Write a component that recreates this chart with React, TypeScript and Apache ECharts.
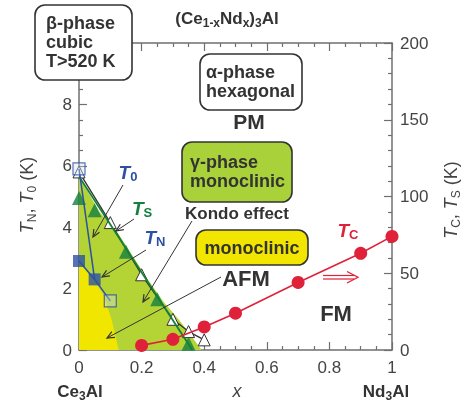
import React, { useEffect, useRef } from "react";
import * as echarts from "echarts";

// ---- data (x = Nd content; left axis in K for T_N/T_0, right axis in K for T_C/T_S) ----
const xTickValues = [0, 0.2, 0.4, 0.6, 0.8, 1];
const leftTickLabels = ["0", "2", "4", "6", "8"];
const rightTickLabels = ["0", "50", "100", "150", "200"];

const greenRegion = [[0, 5.65], [0.065, 4.5], [0.125, 3.8], [0.221, 2.28], [0.27, 1.57], [0.32, 0.98], [0.392, 0]];
const yellowRegion = [[0, 2.8], [0.03, 2.55], [0.078, 1.8], [0.104, 1.0], [0.127, 0]];
const kondoPoints = [[0, 5.8], [0.1, 4.15], [0.2, 2.45], [0.3, 1.0], [0.35, 0.6], [0.4, 0.33]];
const tsFitLine = [[0, 113], [0.362, 0]];
const tsPoints = [[0, 99], [0.05, 91], [0.15, 64], [0.25, 33], [0.35, 4]];
const t0Line = [[0, 5.9], [0.05, 2.3]];
const tnLine = [[0, 2.9], [0.05, 2.3], [0.1, 1.6]];
const tnFilled = [[0, 2.9], [0.05, 2.3]];
const openSquares = [[0, 5.9], [0.1, 1.6]];
const tcPoints = [[0.2, 3], [0.3, 7], [0.4, 15], [0.5, 24], [0.7, 44], [0.9, 63], [1.0, 74]];

const FONT = "'Liberation Sans', Arial, Helvetica, sans-serif";
const DARK = "#333";
const AXIS = "#6f6f6f";
const BLUE = "#2c51a2";
const GREEN = "#13803f";
const RED = "#e0213a";

function arrow(x1: number, y1: number, x2: number, y2: number, color = DARK) {
  const a = Math.atan2(y2 - y1, x2 - x1);
  const L = 8, w = 0.42;
  const p1 = [x2 - L * Math.cos(a - w), y2 - L * Math.sin(a - w)];
  const p2 = [x2 - L * Math.cos(a + w), y2 - L * Math.sin(a + w)];
  return [
    { type: "line", z: 100, shape: { x1, y1, x2, y2 }, style: { stroke: color, lineWidth: 1 } },
    { type: "polyline", z: 100, shape: { points: [p1, [x2, y2], p2] }, style: { stroke: color, lineWidth: 1.2, fill: null } },
  ];
}

function box(x: number, y: number, w: number, h: number, fill: string) {
  return { type: "rect", z: 100, shape: { x, y, width: w, height: h, r: 10 }, style: { fill, stroke: DARK, lineWidth: 1.6 } };
}

function txt(x: number, y: number, text: string, opts: any = {}) {
  return {
    type: "text", z: 101, x, y,
    style: {
      text, fill: opts.color || DARK, font: `${opts.italic ? "italic " : ""}${opts.weight || "bold"} ${opts.size || 18}px ${FONT}`,
      align: opts.align || "left", verticalAlign: "middle",
    },
  };
}

const richBase = (color: string, size: number, weight: string) => ({
  n: { fontSize: size, fontWeight: weight, color, fontFamily: FONT, lineHeight: 22, verticalAlign: "middle" },
  i: { fontSize: size, fontWeight: weight, fontStyle: "italic", color, fontFamily: FONT, lineHeight: 22, verticalAlign: "middle" },
  s: { fontSize: Math.round(size * 0.68), fontWeight: weight, color, fontFamily: FONT, lineHeight: 12, verticalAlign: "bottom" },
});

function richTxt(x: number, y: number, text: string, color: string, size: number, weight: string, rotation = 0, align = "center") {
  return {
    type: "text", z: 101, x, y, rotation,
    style: { text, align, verticalAlign: "middle", rich: richBase(color, size, weight), fill: color },
  };
}

const axisCommon = {
  axisLine: { show: true, onZero: false, lineStyle: { color: AXIS, width: 1.5 } },
  axisTick: { show: true, inside: true, length: 8, lineStyle: { color: AXIS, width: 1.2 } },
  splitLine: { show: false },
};

const option: any = {
  animation: false,
  grid: { left: 79, right: 77, top: 43, bottom: 56 },
  xAxis: [
    {
      type: "value", min: 0, max: 1, interval: 0.2, position: "bottom", ...axisCommon,
      minorTick: { show: true, splitNumber: 4, length: 4, lineStyle: { color: AXIS, width: 1.2 } },
      axisLabel: {
        margin: 9, color: "#444", fontSize: 17, fontFamily: FONT,
        formatter: (v: number) => { const i = xTickValues.findIndex((t) => Math.abs(t - v) < 1e-6); return i >= 0 ? String(xTickValues[i]) : ""; },
      },
    },
    {
      type: "value", min: 0, max: 1, interval: 0.2, position: "top", ...axisCommon,
      minorTick: { show: true, splitNumber: 4, length: 4, lineStyle: { color: AXIS, width: 1.2 } },
      axisLabel: { show: false },
    },
  ],
  yAxis: [
    {
      type: "value", min: 0, max: 10, interval: 2, position: "left", ...axisCommon,
      minorTick: { show: true, splitNumber: 4, length: 4, lineStyle: { color: AXIS, width: 1.2 } },
      axisLabel: {
        margin: 7, color: "#444", fontSize: 17, fontFamily: FONT,
        formatter: (v: number) => leftTickLabels[Math.round(v / 2)] ?? "",
      },
    },
    {
      type: "value", min: 0, max: 200, interval: 50, position: "right", ...axisCommon,
      minorTick: { show: true, splitNumber: 5, length: 4, lineStyle: { color: AXIS, width: 1.2 } },
      axisLabel: {
        margin: 8, color: "#444", fontSize: 17, fontFamily: FONT,
        formatter: (v: number) => rightTickLabels[Math.round(v / 50)] ?? "",
      },
    },
  ],
  series: [
    { type: "line", data: greenRegion, xAxisIndex: 0, yAxisIndex: 0, symbol: "none", silent: true, z: 1,
      lineStyle: { width: 0 }, areaStyle: { color: "#b4d335", opacity: 1 } },
    { type: "line", data: yellowRegion, xAxisIndex: 0, yAxisIndex: 0, symbol: "none", silent: true, z: 2,
      lineStyle: { width: 0 }, areaStyle: { color: "#f0e600", opacity: 1 } },
    { type: "line", data: kondoPoints, xAxisIndex: 0, yAxisIndex: 0, symbol: "triangle", symbolSize: 12, silent: true, z: 3, clip: false,
      lineStyle: { color: DARK, width: 1.3 }, itemStyle: { color: "#fff", borderColor: DARK, borderWidth: 1 } },
    { type: "line", data: tsFitLine, xAxisIndex: 0, yAxisIndex: 1, symbol: "none", silent: true, z: 4,
      lineStyle: { color: GREEN, width: 1.8 } },
    { type: "scatter", data: tsPoints, xAxisIndex: 0, yAxisIndex: 1, symbol: "triangle", symbolSize: 14, silent: true, z: 5, clip: false,
      itemStyle: { color: GREEN } },
    { type: "line", data: t0Line, xAxisIndex: 0, yAxisIndex: 0, symbol: "none", silent: true, z: 6,
      lineStyle: { color: BLUE, width: 1.5 } },
    { type: "line", data: tnLine, xAxisIndex: 0, yAxisIndex: 0, symbol: "none", silent: true, z: 6,
      lineStyle: { color: BLUE, width: 1.5 } },
    { type: "scatter", data: tnFilled, xAxisIndex: 0, yAxisIndex: 0, symbol: "rect", symbolSize: 12, silent: true, z: 7, clip: false,
      itemStyle: { color: BLUE } },
    { type: "scatter", data: openSquares, xAxisIndex: 0, yAxisIndex: 0, symbol: "rect", symbolSize: 12, silent: true, z: 7, clip: false,
      itemStyle: { color: "rgba(210,222,245,0.45)", borderColor: BLUE, borderWidth: 1.2 } },
    { type: "line", data: tcPoints, xAxisIndex: 0, yAxisIndex: 1, symbol: "circle", symbolSize: 13, silent: true, z: 8, clip: false,
      lineStyle: { color: RED, width: 1.6 }, itemStyle: { color: RED } },
  ],
  graphic: [
    // title
    richTxt(227, 18, "{n|(Ce}{s|1-x}{n|Nd}{s|x}{n|)}{s|3}{n|Al}", DARK, 17, "bold"),
    // axis names
    richTxt(27, 195, "{i|T}{s|N}{n|, }{i|T}{s|0}{n| (K)}", "#444", 18, "normal", Math.PI / 2),
    richTxt(451, 200, "{i|T}{s|C}{n|, }{i|T}{s|S}{n| (K)}", "#444", 18, "normal", Math.PI / 2),
    // bottom labels
    richTxt(80, 391, "{n|Ce}{s|3}{n|Al}", DARK, 17, "bold"),
    txt(237, 391, "x", { italic: true, weight: "normal", size: 18, align: "center", color: "#444" }),
    richTxt(386, 391, "{n|Nd}{s|3}{n|Al}", DARK, 17, "bold"),
    // boxes
    box(35, 5, 97, 75, "#fff"),
    txt(46, 23, "β-phase"), txt(46, 42, "cubic"), txt(46, 61, "T>520 K"),
    box(200, 54, 102, 56, "#fff"),
    txt(206, 72, "α-phase"), txt(206, 91, "hexagonal"),
    txt(249, 121, "PM", { size: 21, align: "center" }),
    box(182, 142, 110, 60, "#a9d13a"),
    txt(190, 162, "γ-phase"), txt(190, 181, "monoclinic"),
    txt(237, 213, "Kondo effect", { size: 17, align: "center" }),
    box(196, 230, 112, 35, "#f2e600"),
    txt(252, 248, "monoclinic", { align: "center" }),
    txt(246, 278, "AFM", { size: 22, align: "center" }),
    txt(336, 313, "FM", { size: 22, align: "center" }),
    // series labels
    richTxt(128, 172, "{i|T}{s|0}", BLUE, 19, "bold"),
    richTxt(142, 208, "{i|T}{s|S}", GREEN, 19, "bold"),
    richTxt(155, 237, "{i|T}{s|N}", BLUE, 19, "bold"),
    richTxt(348, 230, "{i|T}{s|C}", RED, 19, "bold"),
    // arrows
    ...arrow(123, 185, 93, 237),
    ...arrow(134, 219, 116, 231),
    ...arrow(146, 250, 102, 277),
    ...arrow(192, 221, 143, 302),
    ...arrow(221, 277, 107, 338),
    // red double arrow
    { type: "line", z: 100, shape: { x1: 323, y1: 275.5, x2: 354, y2: 275.5 }, style: { stroke: RED, lineWidth: 1.2 } },
    { type: "line", z: 100, shape: { x1: 323, y1: 279, x2: 354, y2: 279 }, style: { stroke: RED, lineWidth: 1.2 } },
    { type: "polyline", z: 100, shape: { points: [[347, 271.5], [358, 277.2], [347, 283]] }, style: { stroke: RED, lineWidth: 1.3, fill: null } },
  ],
};

export default function App() {
  const ref = useRef<HTMLDivElement>(null);
  useEffect(() => {
    const chart = echarts.init(ref.current!, null, { renderer: "svg" });
    chart.setOption(option);
    return () => chart.dispose();
  }, []);
  return <div ref={ref} style={{ position: "fixed", left: 0, top: 0, width: 469, height: 406 }} />;
}
